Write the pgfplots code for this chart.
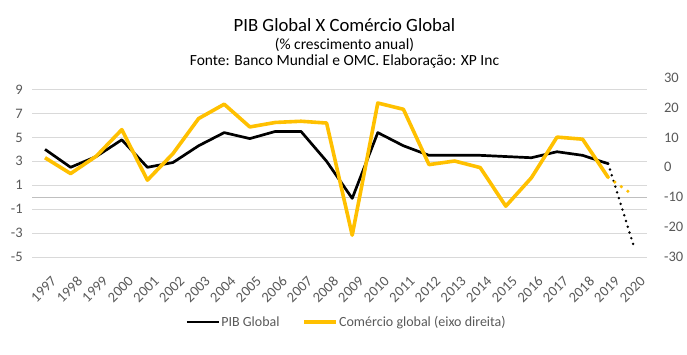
\documentclass[border=0pt]{standalone}
\usepackage{pgfplots}
\pgfplotsset{compat=1.18}
\usepackage{fontspec}
\setmainfont{Carlito}
\definecolor{xpyellow}{HTML}{FFC000}
\definecolor{tickgray}{HTML}{595959}
\definecolor{gridgray}{HTML}{D9D9D9}
\definecolor{zerogray}{HTML}{BFBFBF}
\begin{document}
\begin{tikzpicture}
\useasboundingbox (0bp,0bp) rectangle (687bp,355bp);
\node[anchor=base, font=\fontsize{18.7bp}{21bp}\selectfont] at (344.5bp,323bp) {PIB Global X Comércio Global};
\node[anchor=base, font=\fontsize{15.5bp}{18bp}\selectfont] at (344.5bp,305.5bp) {(\% crescimento anual)};
\node[anchor=base, font=\fontsize{15.5bp}{18bp}\selectfont] at (344.5bp,289bp) {Fonte: Banco Mundial e OMC. Elaboração: XP Inc};
\begin{axis}[
  at={(32.2bp,98bp)}, anchor=south west,
  width=614.4bp, height=179.4bp, scale only axis,
  xmin=1996.5, xmax=2020.5, ymin=-5, ymax=10,
  xtick={1997,...,2020}, ytick={-5,-3,...,9},
  axis line style={draw=none}, major tick length=0pt,
  ymajorgrids, major grid style={gridgray, line width=0.8bp},
  extra y ticks={0}, extra y tick labels={},
  extra y tick style={grid=major, major grid style={zerogray, line width=1.2bp}},
  /pgf/number format/assume math mode=true,
  /pgf/number format/set thousands separator={},
  ticklabel style={font=\fontsize{14.5bp}{16bp}\selectfont, text=tickgray},
  yticklabel style={xshift=-6bp},
  xticklabel style={rotate=45, anchor=north east, inner sep=1bp, xshift=-8bp, yshift=-16bp},
  clip=false,
]
\addplot[black, line width=2.7bp, line join=round] coordinates {
(1997,4.0) (1998,2.5) (1999,3.4) (2000,4.8) (2001,2.5) (2002,2.9) (2003,4.3) (2004,5.4)
(2005,4.9) (2006,5.5) (2007,5.5) (2008,3.0) (2009,-0.1) (2010,5.4) (2011,4.3) (2012,3.5)
(2013,3.5) (2014,3.5) (2015,3.4) (2016,3.3) (2017,3.8) (2018,3.5) (2019,2.8)};
\addplot[black, line width=2.7bp, line cap=round, dash pattern=on 0bp off 6bp] coordinates {
(2019,2.8) (2020,-4.1)};
\end{axis}
\begin{axis}[
  at={(32.2bp,98bp)}, anchor=south west,
  width=614.4bp, height=179.4bp, scale only axis,
  xmin=1996.5, xmax=2020.5, ymin=-30, ymax=30,
  axis x line=none, axis y line*=right,
  ytick={-30,-20,...,30},
  axis line style={draw=none}, major tick length=0pt,
  /pgf/number format/assume math mode=true,
  ticklabel style={font=\fontsize{14.5bp}{16bp}\selectfont, text=tickgray},
  yticklabel style={xshift=14bp},
  clip=false,
  legend columns=2,
  legend style={at={(0.511,-0.362)}, anchor=center, draw=none, fill=none,
    font=\fontsize{14bp}{16bp}\selectfont, text=tickgray,
    nodes={inner sep=1bp},
    /tikz/every even column/.append style={column sep=22bp},
    inner sep=0pt},
  legend image code/.code={\draw[#1] (0bp,0bp) -- (32bp,0bp);},
]
\addlegendimage{black, line width=2.7bp}
\addlegendentry{PIB Global}
\addplot[xpyellow, line width=3.6bp, line join=round] coordinates {
(1997,3.2) (1998,-2.1) (1999,3.7) (2000,12.6) (2001,-4.3) (2002,4.6) (2003,16.3) (2004,21.1)
(2005,13.5) (2006,15.0) (2007,15.4) (2008,14.8) (2009,-22.7) (2010,21.5) (2011,19.4) (2012,0.9)
(2013,2.1) (2014,-0.1) (2015,-13.0) (2016,-3.5) (2017,10.1) (2018,9.4) (2019,-3.4)};
\addlegendentry{Comércio global (eixo direita)}
\addplot[xpyellow, line width=3.6bp, line cap=round, dash pattern=on 0bp off 8bp, forget plot] coordinates {
(2019,-3.4) (2020,-9.4)};
\end{axis}
\end{tikzpicture}
\end{document}
